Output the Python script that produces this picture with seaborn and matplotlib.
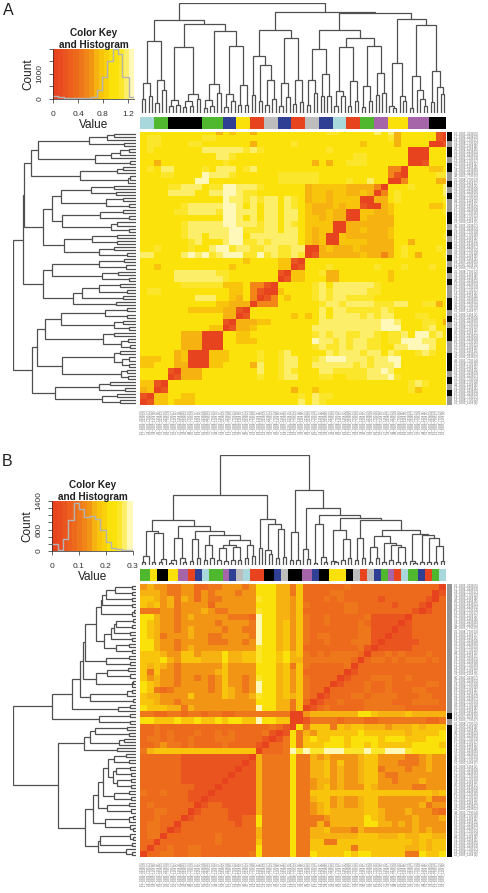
import numpy as np
import seaborn as sns
import matplotlib
matplotlib.use('Agg')
import matplotlib.pyplot as plt
from matplotlib.colors import ListedColormap

W, H = 488, 893

# colour key bands, red to pale yellow
key_colors = ['#E8431F', '#E94A1F', '#EA541E', '#EC5F1D', '#ED6A1C', '#EF771B', '#F18518', '#F39514',
              '#F6B210', '#F8C40C', '#F9D00A', '#FAE10A', '#FBE20B', '#FCE62C', '#FDEE6A', '#FFF8B8']

# heat cell digits -> value
a_levels = [0.03, 0.2, 0.5, 0.68, 0.78, 0.98, 1.1, 1.18, 1.27]
b_levels = [0.005, 0.045, 0.075, 0.1, 0.135, 0.155, 0.175, 0.21, 0.25, 0.285]

heat_a = """
55555 55555 53545 53555 55555 55665 55557 57355 55510
56655 55556 65555 55555 55555 55555 55555 56355 55510
56655 55665 55555 53555 55655 55555 55455 55355 55001
56555 55557 77777 67655 55555 55655 55555 55550 00555
55555 55555 57765 55555 55555 55555 56655 55550 00555
55355 55555 55655 55555 55555 35355 66655 55550 01555
56577 55556 57775 67555 55555 55555 55555 52205 55445
55566 55558 77765 55555 66666 65555 55555 52105 55566
55555 55588 55555 55555 66666 65555 65575 50025 55533
55556 67775 66887 77655 55553 44444 33332 05556 55557
55557 77755 77887 66555 55553 44344 33430 25655 55557
55555 55555 55877 67677 57653 44344 44003 35655 55556
55555 56777 77887 57577 57654 33343 44100 34555 55445
55555 66777 76887 77577 57754 33433 00443 34555 55556
55555 55555 55887 57577 57754 43433 00433 33555 55555
55555 56777 77887 77677 57654 44400 33333 33555 55555
55555 56777 77788 66677 57754 34400 33433 34555 55555
55555 56775 77788 57777 77754 34004 33333 34555 55556
55555 55675 55788 66767 77754 34004 44433 33553 55555
55655 55655 78867 76677 66770 03433 34333 33565 55565
77555 57878 67888 66867 66760 13333 33433 23565 35556
55555 55555 55555 45555 44105 55555 55555 55555 55555
55455 55555 55545 55555 44015 55655 55556 55565 55655
55555 77777 76655 55555 10445 56335 55555 54555 55555
55555 77777 77655 55555 01445 55335 55555 54555 55555
55555 56666 66444 52210 55555 67577 77776 55555 55555
56655 55555 55544 52100 45555 67677 77766 55555 55555
55555 55577 75543 52012 54555 67677 66665 55555 55555
55555 55555 54433 30222 55555 56776 77776 66775 56635
55555 55444 44331 05555 55555 57577 66666 76555 55555
55555 55555 55330 15555 55454 57577 77676 77555 66555
55555 55555 55103 33445 55555 57777 77777 88755 56653
55555 55555 44013 34555 55555 77777 77777 88855 56755
55555 53330 00554 45555 55555 67677 66776 56675 88675
55555 53330 00554 44555 55555 87767 67766 56688 87755
55555 53330 00555 55555 55555 67667 67766 55778 88755
55555 34000 44455 55655 67555 55767 77677 57655 67655
44455 34000 44455 55655 67755 67888 77767 78855 55555
44555 33000 44555 53755 67755 77777 76767 77855 55555
55551 03335 55555 55755 67655 57766 66677 87555 55555
55550 13335 55555 55655 67755 56655 66677 78655 55555
44105 55555 55555 55555 55555 55555 55555 55556 76555
34015 55555 55555 55555 55355 45555 55555 55556 45555
10445 54455 55555 55555 55565 76655 55555 55555 55555
01445 44455 55555 55555 55575 76555 55555 55555 55555
"""

heat_b = """
45443 34422 33444 34777 55362 22222 32222 22222 22220
55543 34424 34443 44777 55362 22233 22222 22222 22201
66545 35424 33444 44877 55462 22323 22222 12222 22102
65645 34444 24444 44777 55463 22222 33222 22122 21022
33344 34445 43344 44877 55462 22222 33222 22222 10122
77544 34544 44433 32977 55463 22322 22231 11110 22222
76544 34444 43444 43977 56463 22322 22321 11101 22222
76544 34544 44344 33977 56463 22222 22331 11011 22222
76534 44544 33444 43977 56463 23322 22331 10111 22222
77544 34444 33344 34977 56463 22322 23331 01111 12222
77544 34544 44444 44877 56462 22222 22310 11111 22222
66654 46645 55755 66877 67563 23233 33202 23232 22322
66675 46665 55755 66877 67553 33333 32023 32323 33232
65654 34444 44644 44777 56363 22222 30222 22222 22222
63644 34444 45644 44777 56462 22222 01222 22222 22222
64544 34434 34644 34877 56463 22220 12223 33223 22222
76544 34444 34644 34977 56463 22201 22232 23222 22332
76323 44444 34654 34977 56463 22022 22232 23222 33222
65544 44644 44654 45877 56563 20122 23323 33322 23322
66544 34444 44444 44777 55362 01223 22233 33222 33332
76665 53544 44444 44977 55360 12322 22233 33332 22222
33223 32332 33223 33333 33004 55555 55776 55556 55555
77666 76676 67677 66977 66001 33332 33322 33333 33223
22322 22222 22222 22223 21073 66636 56655 54555 65666
22323 22232 23232 22231 01735 46666 66766 66665 66667
23323 22322 23332 22210 13736 76677 67777 67776 66777
22343 32322 22322 22102 23736 66777 67767 66666 77776
35666 66666 66666 66022 23989 88999 88898 89998 77777
22222 21111 11111 10533 33733 54544 44566 44443 34544
22222 21111 11111 01533 33733 55646 44566 44433 34544
22222 21111 11110 11533 33733 55645 44566 34443 44544
22222 21111 11101 11533 33733 55645 44566 43344 44444
22222 21111 11011 11533 33733 45545 44566 44344 45444
22222 22211 10111 11533 33733 45645 44465 44444 33444
32232 22111 01111 11533 33733 66666 66666 66666 66656
22222 22110 11111 11533 33733 56645 44566 44444 44533
23222 22201 22111 11533 33733 45645 44566 44444 45344
22332 22012 22211 11533 33733 45655 55566 54445 44432
22322 20122 22211 22733 33733 33455 55576 54444 54445
23322 02222 22221 22733 33733 35355 55577 55454 54444
23320 12222 22222 22533 33733 55644 43544 44444 54544
23302 22222 23222 22533 33733 55555 55666 55565 56655
22022 22222 23222 22633 33733 66336 66666 66666 56566
20223 22332 22222 22733 33733 66666 63666 66665 56566
02233 22332 22222 23733 33733 76666 76776 66663 37667
"""

# merge trees: [height, left, right], 0 is a leaf
tree_a = [330,
          [278,
           [216, [90, [43, 0, 0], [52, 0, 0]], [98, [30, 0, 0], [70, 0, 0]]],
           [266,
            [198, [40, [22, 0, 0], [25, 0, 0]], [58, [37, [18, 0, 0], [20, 0, 0]], [42, 0, 0]]],
            [245,
             [88, [40, [15, 0, 0], [22, 0, 0]], [60, 0, 0]],
             [201, [58, [18, 0, 0], [35, 0, 0]], [83, [25, 0, 0], [25, 0, 0]]]]]],
          [303,
           [250,
            [170, [53, 0, 0], [145, [35, 0, 0], [98, [23, 0, 0], [43, 0, 0]]]],
            [226, [91, [20, 0, 0], [48, 0, 0]], [100, [28, 0, 0], [33, 0, 0]]]],
           [300,
            [250,
             [193, [98, [23, 0, 0], [60, 0, 0]], [118, [50, 0, 0], [51, 0, 0]]],
             [226,
              [198, [66, [20, 0, 0], [51, 0, 0]], [96, [20, 0, 0], [36, 0, 0]]],
              [200, [80, [18, 0, 0], [36, 0, 0]], [120, [55, 0, 0], [60, 0, 0]]]]],
            [283,
             [151, [22, 0, [16, 0, 0]], [50, 0, [35, 0, 0]]],
             [263,
              [110, [16, 0, 0], [68, 0, [42, 0, [20, 0, 0]]]],
              [126, [33, 0, 0], [78, 0, [58, 0, 0]]]]]]]]

tree_b = [332,
          [210,
           [137,
            [103, [28, [10, 0, 0], 0], [97, [10, 0, 0], [17, [8, 0, 0], 0]]],
            [117,
             [83, [15, [7, 0, 0], 0], [20, 0, [9, 0, 0]]],
             [102,
              [77, [13, 0, 0], [20, 0, 0]],
              [90,
               [60, [14, 0, 0], [20, 0, 0]],
               [75,
                [61, [50, [14, 0, 0], [13, 0, 0]], [53, [14, 0, 0], [16, 0, 0]]],
                [60, [20, 0, 0], [27, 0, 0]]]]]]],
           [140, [50, 0, 0], [123, [45, 0, [32, 0, 0]], [110, [20, 0, 0], [25, 0, 0]]]]],
          [227,
           [100, [15, 0, 0], [15, 0, 0]],
           [172,
            [48, 0, [17, 0, 0]],
            [152,
             [123, [7, 0, 0], [25, 0, [10, 0, 0]]],
             [142,
              [107, [12, 0, [8, 0, 0]], [77, [15, 0, 0], [22, 0, 0]]],
              [137,
               [80, [15, 0, 0], [20, 0, 0]],
               [107,
                [87,
                 [55, [10, 0, 0], [20, 0, 0]],
                 [67, [10, 0, 0], [60, [15, 0, 0], [55, [10, 0, 0], [8, 0, 0]]]]],
                [95,
                 [12, 0, [5, 0, 0]],
                 [92, [10, 0, 0], [80, [10, 0, 0], [58, [10, 0, 0], [12, 0, 0]]]]]]]]]]]]

# sample colour bars, run lengths left to right
group_colors = {'lb': '#A8D8DC', 'gr': '#50B82E', 'bk': '#000000', 'bl': '#2F3F93',
                'ye': '#FBE10A', 're': '#E8431F', 'gy': '#BDBDBD', 'pu': '#A565A8'}
group_names = list(group_colors)
bar_a = ['lb', 'gr', 'bk', 'gr', 'bl', 'ye', 're', 'gy', 'bl', 're', 'gy', 'bl', 'lb', 're', 'gr', 'pu', 'ye', 'pu', 'bk']
bar_a_n = [4, 4, 10, 6, 4, 4, 4, 4, 4, 4, 4, 4, 4, 4, 4, 4, 6, 6, 5]
bar_b = ['gr', 'ye', 'bk', 'ye', 'pu', 're', 'bl', 'lb', 'gr', 'pu', 'bl', 'gy', 'lb', 're', 'bk', 'bl', 'gy', 'bk',
         'pu', 'bl', 'bk', 'ye', 'bk', 'gy', 're', 'gy', 'bl', 'gr', 'pu', 're', 'lb', 'gr', 'bl', 're', 'gr', 'lb']
bar_b_n = [3, 2, 3, 3, 3, 2, 2, 2, 4, 2, 2, 2, 2, 4, 3, 2, 2, 4, 3, 2, 3, 5, 2, 2, 2, 2, 2, 2, 2, 2, 2, 3, 2, 2, 2, 2]

# right hand strips, black/grey runs top to bottom
strip_a = [3, 2, 3, 2, 3, 3, 2, 2, 2, 4, 4, 2, 2, 2, 2, 2, 2, 2, 2, 2, 2, 4, 4, 2, 2, 2, 4, 4, 6, 2, 2, 2, 2, 3]
strip_b = [0, 42, 2, 2, 43]

# histograms behind the colour keys
hist_a_bins = [0, 0.07, 0.17, 0.6, 0.7, 0.78, 0.86, 0.96, 1.04, 1.11, 1.215, 1.3]
hist_a_counts = [100, 60, 40, 60, 360, 870, 1500, 1970, 1770, 870, 90]
hist_b_bins = [0, 0.02, 0.04, 0.06, 0.08, 0.1, 0.12, 0.14, 0.16, 0.18, 0.2, 0.22, 0.24, 0.26, 0.28, 0.3]
hist_b_counts = [185, 30, 325, 880, 1345, 1190, 940, 980, 890, 600, 260, 90, 50, 40, 30]

sample_runs = ['0205_2238', '0206_2238', '0205_7795', '0208_7795', '0205_1158', '0209_1158']
sample_reps = [5, 3, 7, 2, 4, 6, 1]

sns.set_style('white')
plt.rcParams['font.family'] = ['Liberation Sans', 'DejaVu Sans']
fig = plt.figure(figsize=(W / 100, H / 100), dpi=100)
key_cmap = ListedColormap(key_colors)


def ax_px(x0, y0, x1, y1):
    return fig.add_axes([x0 / W, 1 - y1 / H, (x1 - x0) / W, (y1 - y0) / H])


def read_matrix(text, levels):
    rows = [r.replace(' ', '') for r in text.strip().splitlines()]
    return np.array([[levels[int(ch)] for ch in r] for r in rows])


def walk(node, state, segs):
    if node == 0:
        state[0] += 1
        return state[0] - 0.5, 0
    xl, hl = walk(node[1], state, segs)
    xr, hr = walk(node[2], state, segs)
    h = node[0]
    segs.append(([xl, xl, xr, xr], [hl, h, h, hr]))
    return (xl + xr) / 2, h


def draw_dendro(tree, top_box, left_box):
    segs = []
    state = [0]
    walk(tree, state, segs)
    n = state[0]
    ax = ax_px(*top_box)
    for xs, hs in segs:
        ax.plot(xs, hs, color='#505050', lw=0.9, solid_joinstyle='miter')
    ax.set_xlim(0, n)
    ax.set_ylim(0, tree[0])
    ax.axis('off')
    ax = ax_px(*left_box)
    for xs, hs in segs:
        ax.plot(hs, xs, color='#505050', lw=0.9, solid_joinstyle='miter')
    ax.set_ylim(0, n)
    ax.set_xlim(tree[0], 0)
    ax.axis('off')


def draw_key(box, vmax, ymax, bins, counts, xticks, xlabels, yticks, ylabels, title_y, value_y, count_x):
    ax = ax_px(*box)
    edges = np.linspace(0, vmax, len(key_colors) + 1)
    ax.pcolormesh(edges, [0, ymax], [np.arange(len(key_colors))], cmap=key_cmap)
    sns.histplot(x=bins[:-1], weights=counts, bins=bins, element='step', fill=False,
                 color='#B4B4B4', lw=1.0, ax=ax)
    ax.set_xlim(0, vmax)
    ax.set_ylim(0, ymax)
    for s in ax.spines.values():
        s.set_visible(False)
    ax.spines['left'].set_visible(True)
    ax.spines['left'].set_linewidth(0.5)
    ax.spines['bottom'].set_visible(True)
    ax.spines['bottom'].set_linewidth(0.5)
    ax.tick_params(axis='both', length=3, width=0.5, direction='out', left=True, bottom=True)
    ax.tick_params(axis='x', pad=6)
    ax.tick_params(axis='y', pad=4)
    ax.set_xticks(xticks)
    ax.set_xticklabels(xlabels, fontsize=6, color='#303030')
    ax.set_yticks(yticks)
    ax.set_yticklabels(ylabels, fontsize=6, color='#303030', rotation=90, va='center')
    ax.set_xlabel('')
    ax.set_ylabel('')
    cx = (box[0] + box[2]) / 2
    fig.text(cx / W, 1 - title_y / H, 'Color Key\nand Histogram', ha='center', va='center',
             fontsize=7.2, fontweight='bold', linespacing=1.25, color='#202020')
    fig.text(cx / W, 1 - value_y / H, 'Value', ha='center', va='center', fontsize=8.5, color='#202020')
    fig.text(count_x / W, 1 - (box[1] + box[3]) / 2 / H, 'Count', rotation=90, ha='center', va='center',
             fontsize=8.5, color='#202020')


def draw_panel(y_top, heat, vmax, tree, bar, bar_n, strip, clip):
    bar_top = y_top + 117
    heat_top = y_top + 132
    heat_bot = heat_top + 273
    draw_dendro(tree, (140, y_top + 3, 446, y_top + 113), (13, heat_top, 136, heat_bot))

    ax = ax_px(140, bar_top, 446, bar_top + 11.5)
    idx = np.repeat([group_names.index(g) for g in bar], bar_n)[None, :]
    sns.heatmap(idx, ax=ax, cmap=ListedColormap(list(group_colors.values())), vmin=0, vmax=len(group_names) - 1,
                cbar=False, xticklabels=False, yticklabels=False)

    ax = ax_px(140, heat_top, 446, heat_bot)
    sns.heatmap(heat, ax=ax, cmap=key_cmap, vmin=0, vmax=vmax, cbar=False, xticklabels=False, yticklabels=False)
    ax.set_xlim(0, clip[0])
    ax.set_ylim(45, clip[1])

    ax = ax_px(446.5, heat_top, 452, heat_bot)
    side = np.repeat([i % 2 for i in range(len(strip))], strip)[:, None]
    sns.heatmap(side, ax=ax, cmap=ListedColormap(['#000000', '#969696']), vmin=0, vmax=1,
                cbar=False, xticklabels=False, yticklabels=False)

    # tiny sample names along the right and bottom edge
    n = sum(bar_n)
    for i in range(n):
        lab = f'{(i * 7) % 60 + 10}_{sample_runs[i % 6]} ({sample_reps[i % 7]})'
        fig.text(453.5 / W, 1 - (heat_top + (i + 0.5) * 273 / n) / H, lab, fontsize=2.1, color='#606060',
                 ha='left', va='center')
        fig.text((140 + (i + 0.5) * 306 / n) / W, 1 - (heat_bot + 5) / H, lab, fontsize=2.1, color='#606060',
                 rotation=90, ha='center', va='top')


draw_panel(0, read_matrix(heat_a, a_levels), 1.3, tree_a, bar_a, bar_a_n, strip_a, (44.5, 0.5))
draw_panel(452, read_matrix(heat_b, b_levels), 0.3, tree_b, bar_b, bar_b_n, strip_b, (45, 0))

draw_key((53.3, 48.5, 134, 99), 1.3, 2000, hist_a_bins, hist_a_counts,
         [0, 0.4, 0.8, 1.2], ['0', '0.4', '0.8', '1.2'], [0, 500, 1000, 1500, 2000], ['0', '', '1000', '', ''],
         39, 125.5, 28)
draw_key((52.3, 501, 132.5, 551), 0.3, 1400, hist_b_bins, hist_b_counts,
         [0, 0.1, 0.2, 0.3], ['0', '0.1', '0.2', '0.3'], list(range(0, 1401, 200)),
         ['0', '', '', '600', '', '', '', '1400'], 491, 577.5, 27)

fig.text(2.5 / W, 1 - 15 / H, 'A', fontsize=11.5, ha='left', va='baseline', color='#202020')
fig.text(2 / W, 1 - 466 / H, 'B', fontsize=11.5, ha='left', va='baseline', color='#202020')

fig.savefig('out.png', dpi=100)
